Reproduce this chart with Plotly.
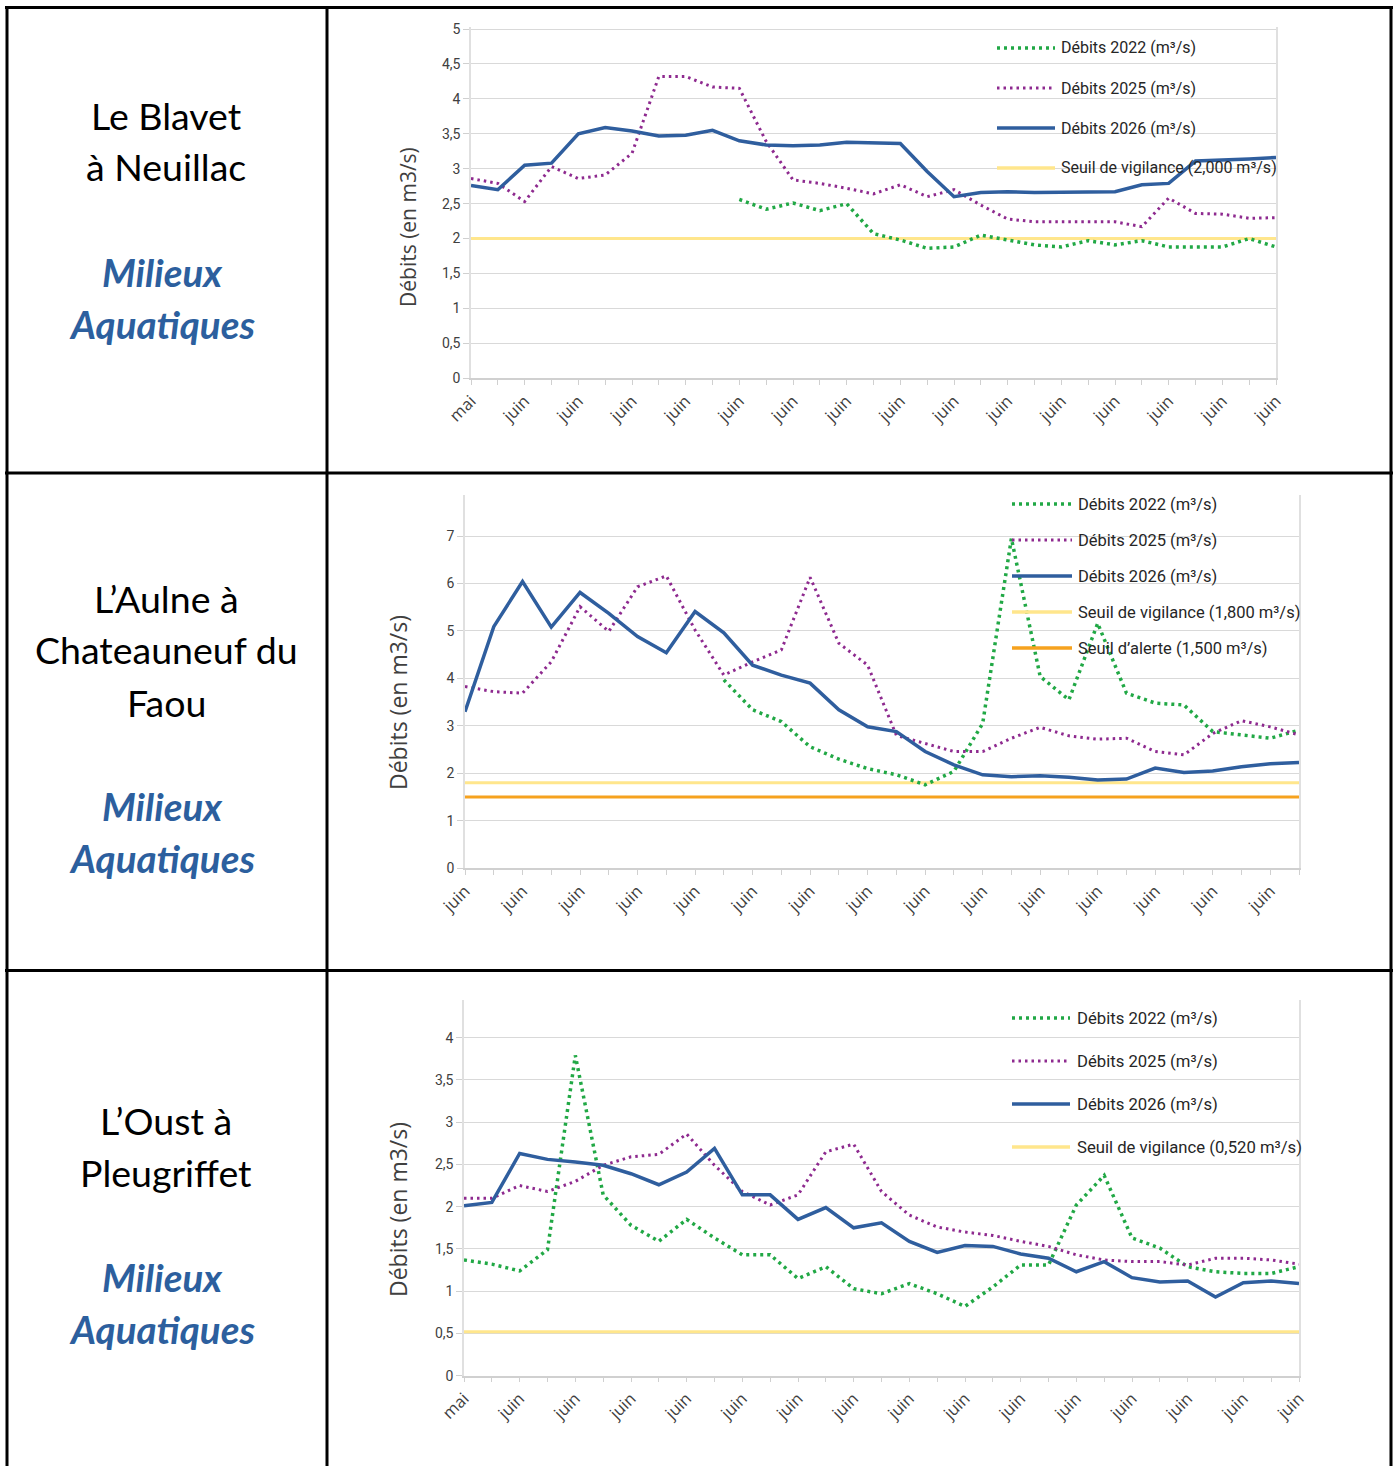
import plotly.graph_objects as go

W, H = 1393, 1466

# ---------------- DATA ----------------
# Chart 1 : Le Blavet à Neuillac (31 points)
blavet_labels = ["mai"] + ["juin"] * 15
blavet_2026 = [2.76, 2.70, 3.05, 3.08, 3.50, 3.59, 3.54, 3.47, 3.48, 3.55, 3.40, 3.34, 3.33, 3.34, 3.38, 3.37,
               3.36, 2.96, 2.60, 2.66, 2.67, 2.66, 2.66, 2.67, 2.67, 2.77, 2.79, 3.11, 3.12, 3.14, 3.16]
blavet_2025 = [2.86, 2.79, 2.53, 3.03, 2.86, 2.91, 3.22, 4.32, 4.32, 4.17, 4.15, 3.39, 2.84, 2.79, 2.72, 2.64,
               2.77, 2.60, 2.70, 2.48, 2.28, 2.24, 2.24, 2.24, 2.24, 2.17, 2.58, 2.36, 2.35, 2.29, 2.30]
blavet_2022 = [None] * 10 + [2.56, 2.42, 2.51, 2.40, 2.50, 2.07,
               1.98, 1.86, 1.88, 2.05, 1.98, 1.91, 1.88, 1.97, 1.91, 1.97, 1.88, 1.88, 1.88, 2.00, 1.88]
blavet_vigilance = 2.0

# Chart 2 : L'Aulne à Chateauneuf du Faou (30 points)
aulne_labels = ["juin"] * 15
aulne_2026 = [3.30, 5.09, 6.04, 5.08, 5.81, 5.37, 4.88, 4.54, 5.41, 4.96, 4.28, 4.07, 3.90, 3.34, 2.98,
              2.88, 2.46, 2.18, 1.97, 1.93, 1.95, 1.92, 1.86, 1.88, 2.11, 2.02, 2.05, 2.14, 2.20, 2.23]
aulne_2025 = [3.83, 3.72, 3.69, 4.35, 5.51, 4.99, 5.93, 6.16, 5.02, 4.07, 4.35, 4.60, 6.13, 4.74, 4.28,
              2.80, 2.63, 2.46, 2.46, 2.74, 2.97, 2.79, 2.72, 2.74, 2.46, 2.39, 2.84, 3.11, 2.98, 2.81]
aulne_2022 = [None] * 9 + [3.97, 3.34, 3.09, 2.56, 2.30, 2.10,
              1.97, 1.76, 2.04, 3.05, 6.95, 4.04, 3.55, 5.16, 3.69, 3.48, 3.44, 2.88, 2.81, 2.74, 2.91]
aulne_vigilance = 1.8
aulne_alerte = 1.5

# Chart 3 : L'Oust à Pleugriffet (31 points)
oust_labels = ["mai"] + ["juin"] * 15
oust_2026 = [2.01, 2.05, 2.63, 2.56, 2.53, 2.49, 2.39, 2.26, 2.41, 2.69, 2.14, 2.14, 1.85, 1.99, 1.75, 1.81,
             1.59, 1.46, 1.54, 1.53, 1.44, 1.39, 1.23, 1.35, 1.16, 1.11, 1.12, 0.93, 1.10, 1.12, 1.09]
oust_2025 = [2.10, 2.10, 2.25, 2.18, 2.30, 2.49, 2.59, 2.62, 2.86, 2.49, 2.18, 2.02, 2.14, 2.65, 2.74, 2.18,
             1.90, 1.76, 1.70, 1.66, 1.59, 1.53, 1.43, 1.37, 1.35, 1.35, 1.31, 1.39, 1.39, 1.37, 1.32]
oust_2022 = [1.37, 1.32, 1.24, 1.49, 3.79, 2.14, 1.78, 1.59, 1.85, 1.63, 1.43, 1.43, 1.15, 1.29, 1.03, 0.97,
             1.09, 0.97, 0.82, 1.05, 1.31, 1.31, 2.02, 2.37, 1.63, 1.51, 1.29, 1.23, 1.21, 1.21, 1.29]
oust_vigilance = 0.52

rows_text = [
    (["Le Blavet", "à Neuillac"], [115, 167], [272, 324]),
    (["L’Aulne à", "Chateauneuf du", "Faou"], [598, 650, 702], [806, 858]),
    (["L’Oust à", "Pleugriffet"], [1120, 1172], [1277, 1329]),
]

# ---------------- STYLE ----------------
C26 = "#2F5E9E"
C25 = "#8E2A8F"
C22 = "#21A845"
CVIG = "#FFE68C"
CALE = "#F6A21E"
GRID = "#D9D9D9"
NARROW = "Roboto, sans-serif"


def px_x(x):
    return x / W


def px_y(y):
    return 1 - y / H


fig = go.Figure()

charts = [
    dict(ax="", x0=471, x1=1276, y0=378.3, ytop=27, dtick=0.5, ypx_per=69.86,
         labels=blavet_labels, n=31,
         series=[(blavet_2022, C22, "dot22"), (blavet_2025, C25, "dot25"), (blavet_2026, C26, "solid")],
         thresholds=[(blavet_vigilance, CVIG)],
         ytitle_x=408, ytitle_y=227, ytitle_size=21,
         legend=dict(ys=[48, 88, 128, 168], lx0=997, lx1=1055, tx=1059, size=16,
                     items=[("Débits 2022 (m³/s)", C22, "dot22"), ("Débits 2025 (m³/s)", C25, "dot25"),
                            ("Débits 2026 (m³/s)", C26, "solid"),
                            ("Seuil de vigilance (2,000 m³/s)", CVIG, "solid")])),
    dict(ax="2", x0=465, x1=1299, y0=868.3, ytop=495, dtick=1, ypx_per=47.47,
         labels=aulne_labels, n=30,
         series=[(aulne_2022, C22, "dot22"), (aulne_2025, C25, "dot25"), (aulne_2026, C26, "solid")],
         thresholds=[(aulne_vigilance, CVIG), (aulne_alerte, CALE)],
         ytitle_x=398, ytitle_y=703, ytitle_size=23,
         legend=dict(ys=[504, 540, 576, 612, 648], lx0=1012, lx1=1072, tx=1076, size=16.5,
                     items=[("Débits 2022 (m³/s)", C22, "dot22"), ("Débits 2025 (m³/s)", C25, "dot25"),
                            ("Débits 2026 (m³/s)", C26, "solid"),
                            ("Seuil de vigilance (1,800 m³/s)", CVIG, "solid"),
                            ("Seuil d’alerte (1,500 m³/s)", CALE, "solid")])),
    dict(ax="3", x0=464, x1=1299, y0=1375.7, ytop=1000, dtick=0.5, ypx_per=84.5,
         labels=oust_labels, n=31,
         series=[(oust_2022, C22, "dot22"), (oust_2025, C25, "dot25"), (oust_2026, C26, "solid")],
         thresholds=[(oust_vigilance, CVIG)],
         ytitle_x=398, ytitle_y=1210, ytitle_size=23,
         legend=dict(ys=[1018, 1061, 1104, 1147], lx0=1012, lx1=1070, tx=1075, size=16.7,
                     items=[("Débits 2022 (m³/s)", C22, "dot22"), ("Débits 2025 (m³/s)", C25, "dot25"),
                            ("Débits 2026 (m³/s)", C26, "solid"),
                            ("Seuil de vigilance (0,520 m³/s)", CVIG, "solid")])),
]


def line_style(kind, color):
    if kind == "dot22":
        return dict(color=color, width=3.5, dash="3px,4px")
    if kind == "dot25":
        return dict(color=color, width=3.0, dash="2.5px,4px")
    return dict(color=color, width=3.5)


shapes = []
annotations = []
layout_axes = {}

for ch in charts:
    ax = ch["ax"]
    xs = list(range(ch["n"]))
    xname = "x" + ax
    yname = "y" + ax
    for val, col in ch["thresholds"]:
        fig.add_trace(go.Scatter(x=xs, y=[val] * ch["n"], mode="lines",
                                 line=dict(color=col, width=3), xaxis=xname, yaxis=yname,
                                 showlegend=False, hoverinfo="skip"))
    for vals, col, kind in ch["series"]:
        fig.add_trace(go.Scatter(x=xs, y=vals, mode="lines", line=line_style(kind, col),
                                 xaxis=xname, yaxis=yname, showlegend=False, connectgaps=False))
    ytop_val = (ch["y0"] - ch["ytop"]) / ch["ypx_per"]
    tickvals = list(range(ch["n"]))
    ticktext = []
    for i in tickvals:
        if i % 2 == 0 and i // 2 < len(ch["labels"]):
            ticktext.append(ch["labels"][i // 2])
        else:
            ticktext.append("")
    layout_axes["xaxis" + ax] = dict(
        domain=[px_x(ch["x0"]), px_x(ch["x1"])], range=[0, ch["n"] - 1],
        anchor=yname, tickmode="array", tickvals=tickvals, ticktext=ticktext,
        tickangle=-45, ticks="outside", ticklen=5, tickcolor="#D0D0D0",
        showgrid=False, zeroline=False, showline=True, linecolor="#D0D0D0", linewidth=1.5,
        tickfont=dict(family="Open Sans", size=16.5, color="#404040"), fixedrange=True,
        automargin=False)
    layout_axes["yaxis" + ax] = dict(
        domain=[px_y(ch["y0"]), px_y(ch["ytop"])], range=[0, ytop_val], anchor=xname,
        tickmode="linear", tick0=0, dtick=ch["dtick"],
        ticks="outside", ticklen=6, tickcolor="#D0D0D0",
        showgrid=True, gridcolor=GRID, gridwidth=1.3, zeroline=False,
        showline=True, mirror=True, linecolor="#E0E0E0", linewidth=1.5,
        tickfont=dict(family=NARROW, size=14, color="#404040"), fixedrange=True,
        automargin=False)
    annotations.append(dict(x=px_x(ch["ytitle_x"]), y=px_y(ch["ytitle_y"]), xref="paper", yref="paper",
                            text="Débits (en m3/s)", textangle=-90, showarrow=False,
                            font=dict(family="Open Sans", size=ch["ytitle_size"], color="#404040"),
                            xanchor="center", yanchor="middle"))
    lg = ch["legend"]
    for yy, (txt, col, kind) in zip(lg["ys"], lg["items"]):
        st = line_style(kind, col)
        shapes.append(dict(type="line", xref="paper", yref="paper",
                           x0=px_x(lg["lx0"]), x1=px_x(lg["lx1"]), y0=px_y(yy), y1=px_y(yy),
                           line=dict(color=st["color"], width=st["width"], dash=st.get("dash", "solid"))))
        annotations.append(dict(x=px_x(lg["tx"]), y=px_y(yy), xref="paper", yref="paper", text=txt,
                                showarrow=False, xanchor="left", yanchor="middle",
                                font=dict(family=NARROW, size=lg["size"], color="#262626")))

# Table structure
BLACK = "#000000"
shapes += [
    dict(type="line", xref="paper", yref="paper", x0=px_x(5), x1=px_x(1393), y0=px_y(7.5), y1=px_y(7.5),
         line=dict(color=BLACK, width=3)),
    dict(type="line", xref="paper", yref="paper", x0=px_x(7), x1=px_x(7), y0=px_y(6), y1=px_y(1466),
         line=dict(color=BLACK, width=3)),
    dict(type="line", xref="paper", yref="paper", x0=px_x(1391), x1=px_x(1391), y0=px_y(6), y1=px_y(1466),
         line=dict(color=BLACK, width=3)),
    dict(type="line", xref="paper", yref="paper", x0=px_x(327), x1=px_x(327), y0=px_y(6), y1=px_y(1466),
         line=dict(color=BLACK, width=3)),
    dict(type="line", xref="paper", yref="paper", x0=px_x(5), x1=px_x(1393), y0=px_y(473), y1=px_y(473),
         line=dict(color=BLACK, width=3)),
    dict(type="line", xref="paper", yref="paper", x0=px_x(5), x1=px_x(1393), y0=px_y(970.5), y1=px_y(970.5),
         line=dict(color=BLACK, width=3)),
]

for lines, ys, ys2 in rows_text:
    for t, yy in zip(lines, ys):
        annotations.append(dict(x=px_x(166), y=px_y(yy), xref="paper", yref="paper", text=t,
                                showarrow=False, xanchor="center", yanchor="middle",
                                font=dict(family="Lato", size=37.5, color="#000000")))
    for t, yy in zip(["<b><i>Milieux</i></b>", "<b><i>Aquatiques</i></b>"], ys2):
        annotations.append(dict(x=px_x(162), y=px_y(yy), xref="paper", yref="paper", text=t,
                                showarrow=False, xanchor="center", yanchor="middle",
                                font=dict(family="Lato", size=38.5, color="#2C5F9E")))

fig.update_layout(
    width=W, height=H, margin=dict(l=0, r=0, t=0, b=0, pad=0, autoexpand=False),
    paper_bgcolor="white", plot_bgcolor="white",
    separators=", ", showlegend=False,
    shapes=shapes, annotations=annotations, **layout_axes)

fig.write_html("out.html", config={"displayModeBar": False},
               post_script="document.body.style.margin='0';")
